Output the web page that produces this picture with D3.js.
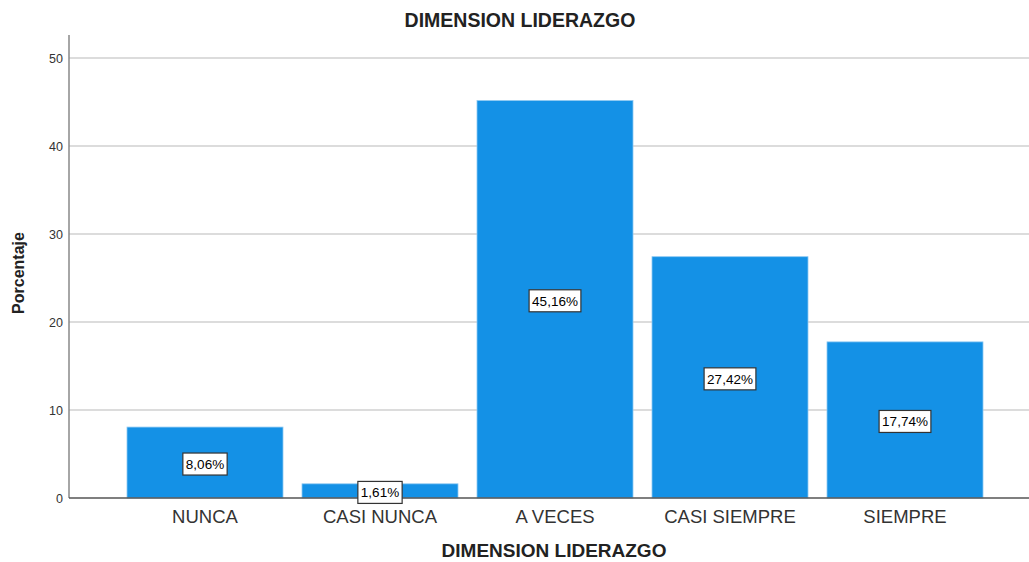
<!DOCTYPE html>
<html>
<head>
<meta charset="utf-8">
<script src="https://cdn.jsdelivr.net/npm/d3@7"></script>
<style>
	body { margin: 0; background: #fff; font-family: "Liberation Sans", Arial, sans-serif; }
	.grid line { stroke: #d0d0d0; stroke-width: 1.5; }
</style>
</head>
<body>
<div id="chart"></div>
<script>
	// datos
	let categories = ["NUNCA", "CASI NUNCA", "A VECES", "CASI SIEMPRE", "SIEMPRE"];
	let values = [8.06, 1.61, 45.16, 27.42, 17.74];
	let labels = ["8,06%", "1,61%", "45,16%", "27,42%", "17,74%"];
	let yTicks = [0, 10, 20, 30, 40, 50];

	let width = 1029, height = 562;
	let axisLeft = 69, axisRight = 1029, axisTop = 35, y0 = 498;

	let svg = d3.select("#chart").append("svg")
		.attr("width", width)
		.attr("height", height);

	let x = d3.scaleBand().domain(categories).range([117.5, 992.5])
		.paddingInner(0.1086).paddingOuter(0.0543);
	let y = d3.scaleLinear().domain([0, 50]).range([y0, 58]);

	// lineas de cuadricula
	svg.append("g").attr("class", "grid")
		.selectAll("line").data(yTicks.slice(1))
		.enter().append("line")
		.attr("x1", axisLeft).attr("x2", axisRight)
		.attr("y1", d => y(d)).attr("y2", d => y(d));

	// barras
	svg.append("g").selectAll("rect").data(values)
		.enter().append("rect")
		.attr("x", (d, i) => x(categories[i]))
		.attr("width", x.bandwidth())
		.attr("y", d => y(d))
		.attr("height", d => y0 - y(d))
		.attr("fill", "#1491e6")
		.attr("stroke", "#8cc8f2")
		.attr("stroke-width", 0.8);

	// eje y
	let yAxis = svg.append("g").attr("transform", "translate(" + axisLeft + ",0)");
	yAxis.append("line").attr("x1", 0).attr("x2", 0).attr("y1", axisTop).attr("y2", y0)
		.attr("stroke", "#888").attr("stroke-width", 1.5);
	yAxis.selectAll("text").data(yTicks).enter().append("text")
		.attr("x", -6).attr("y", d => y(d)).attr("dy", "0.38em")
		.attr("text-anchor", "end").attr("font-size", 12.5).attr("fill", "#333")
		.text(d => d);

	// eje x
	svg.append("line").attr("x1", axisLeft).attr("x2", axisRight).attr("y1", y0).attr("y2", y0)
		.attr("stroke", "#555").attr("stroke-width", 1.5);
	svg.append("g").selectAll("text").data(categories).enter().append("text")
		.attr("x", d => x(d) + x.bandwidth() / 2).attr("y", 523)
		.attr("text-anchor", "middle").attr("font-size", 18.5).attr("fill", "#333")
		.text(d => d);

	// etiquetas de valor
	let lab = svg.append("g").selectAll("g").data(values).enter().append("g")
		.attr("transform", (d, i) => "translate(" + (x(categories[i]) + x.bandwidth() / 2) + "," + ((y(d) + y0) / 2 + 1.5) + ")");
	lab.each(function(d, i) {
		let g = d3.select(this);
		let t = g.append("text").attr("text-anchor", "middle").attr("dy", "0.36em")
			.attr("font-size", 13.5).attr("fill", "#000").text(labels[i]);
		let bb = t.node().getBBox();
		g.insert("rect", "text")
			.attr("x", bb.x - 3).attr("y", -11).attr("width", bb.width + 6).attr("height", 22)
			.attr("fill", "#fff").attr("stroke", "#333").attr("stroke-width", 1.2);
	});

	// titulos
	svg.append("text").attr("x", 520).attr("y", 27).attr("text-anchor", "middle")
		.attr("font-size", 19.5).attr("font-weight", "bold").attr("fill", "#222")
		.text("DIMENSION LIDERAZGO");
	svg.append("text").attr("x", 554).attr("y", 557).attr("text-anchor", "middle")
		.attr("font-size", 19).attr("font-weight", "bold").attr("fill", "#222")
		.text("DIMENSION LIDERAZGO");
	svg.append("text").attr("transform", "translate(24,273) rotate(-90)")
		.attr("text-anchor", "middle").attr("font-size", 16).attr("font-weight", "bold").attr("fill", "#222")
		.text("Porcentaje");
</script>
</body>
</html>
